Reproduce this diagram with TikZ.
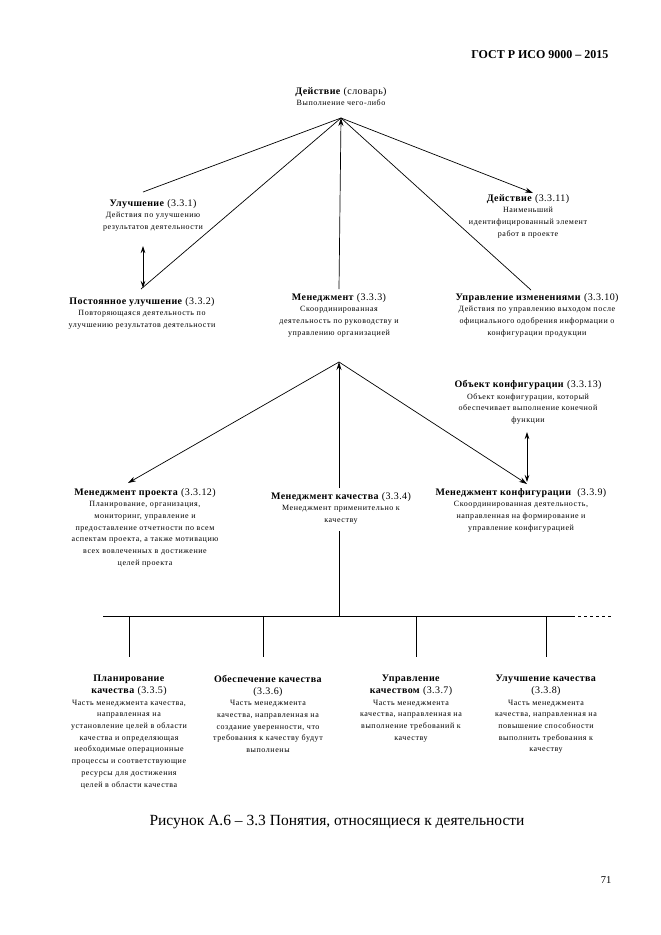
\documentclass[tikz,border=0pt]{standalone}
\usepackage{fontspec}
\setmainfont{Liberation Serif}
\usetikzlibrary{arrows.meta}
\newcommand\descfont{\fontsize{8}{11.7}\selectfont\addfontfeature{LetterSpace=7}}
\newcommand\titfont{\fontsize{10}{11.7}\selectfont\addfontfeature{LetterSpace=4}}
\newcommand\bt[1]{{\titfont\textbf{#1}}}
\newcommand\nt[1]{{\titfont #1}}
\begin{document}
\begin{tikzpicture}[x=1pt,y=-1pt,
  concept/.style={align=center,font=\descfont,inner sep=0pt,anchor=north},
  conn/.style={line width=0.7pt,black},
  arr/.style={conn,-{Stealth[length=8pt,width=5pt]}},
  darr/.style={conn,{Stealth[length=7pt,width=4.5pt]}-{Stealth[length=7pt,width=4.5pt]}},
  dashline/.style={conn,dashed}]
\useasboundingbox (0,0) rectangle (661,935);
% header
\node[font=\fontsize{12}{14}\selectfont\bfseries,anchor=east] (hdr) at (612,55) {ГОСТ Р ИСО 9000 – 2015};
% top level
\node[concept] (top) at (341,87) {\bt{Действие}\nt{\ (словарь)}\\Выполнение чего-либо};
\coordinate (ap1) at (341,118);
\node[concept] (u1) at (153,199) {\bt{Улучшение}\nt{\ (3.3.1)}\\Действия по улучшению\\результатов деятельности};
\node[concept] (a11) at (528,194) {\bt{Действие}\nt{\ (3.3.11)}\\Наименьший\\идентифицированный элемент\\работ в проекте};
\node[concept] (u2) at (142,297) {\bt{Постоянное улучшение}\nt{\ (3.3.2)}\\Повторяющаяся деятельность по\\улучшению результатов деятельности};
\node[concept] (m3) at (339,293) {\bt{Менеджмент}\nt{\ (3.3.3)}\\Скоординированная\\деятельность по руководству и\\управлению организацией};
\node[concept] (c10) at (537,293) {\bt{Управление изменениями}\nt{\ (3.3.10)}\\Действия по управлению выходом после\\официального одобрения информации о\\конфигурации продукции};
\coordinate (e1) at (143,192);
\coordinate (e2) at (141,289);
\coordinate (e3) at (339,289);
\coordinate (e4) at (531,290);
\coordinate (e5) at (533,193);
\draw[conn] (ap1) -- (e1);
\draw[conn] (ap1) -- (e2);
\draw[conn] (ap1) -- (e4);
\draw[arr] (e3) -- (ap1);
\draw[arr] (ap1) -- (e5);
\coordinate (d1a) at (143,246);
\coordinate (d1b) at (143,288);
\draw[darr] (d1a) -- (d1b);
% second level
\coordinate (ap2) at (339,362);
\node[concept] (o13) at (528,380) {\bt{Объект конфигурации}\nt{\ (3.3.13)}\\Объект конфигурации, который\\обеспечивает выполнение конечной\\функции};
\node[concept] (mp12) at (145,488) {\bt{Менеджмент проекта}\nt{\ (3.3.12)}\\Планирование, организация,\\мониторинг, управление и\\предоставление отчетности по всем\\аспектам проекта, а также мотивацию\\всех вовлеченных в достижение\\целей проекта};
\node[concept] (mq4) at (341,492) {\bt{Менеджмент качества}\nt{\ (3.3.4)}\\Менеджмент применительно к\\качеству};
\node[concept] (mk9) at (521,488) {\bt{Менеджмент конфигурации}\nt{\ \ (3.3.9)}\\Скоординированная деятельность,\\направленная на формирование и\\управление конфигурацией};
\coordinate (f1) at (128,483);
\coordinate (f2) at (339,488);
\coordinate (f3) at (527,484);
\draw[arr] (f2) -- (ap2);
\draw[arr] (ap2) -- (f1);
\draw[arr] (ap2) -- (f3);
\coordinate (d2a) at (527,432);
\coordinate (d2b) at (527,482);
\draw[darr] (d2a) -- (d2b);
% quality management tree
\coordinate (q0) at (339,531);
\coordinate (q1) at (339,616);
\coordinate (hL) at (103,616);
\coordinate (hR) at (572,616);
\coordinate (hD) at (612,616);
\draw[conn] (q0) -- (q1);
\draw[conn] (hL) -- (hR);
\draw[dashline] (hR) -- (hD);
\node[concept] (p5) at (129,675) {\bt{Планирование}\\\bt{качества}\nt{\ (3.3.5)}\\Часть менеджмента качества,\\направленная на\\установление целей в области\\качества и определяющая\\необходимые операционные\\процессы и соответствующие\\ресурсы для достижения\\целей в области качества};
\node[concept] (p6) at (268,675) {\bt{Обеспечение качества}\\\nt{(3.3.6)}\\Часть менеджмента\\качества, направленная на\\создание уверенности, что\\требования к качеству будут\\выполнены};
\node[concept] (p7) at (411,675) {\bt{Управление}\\\bt{качеством}\nt{\ (3.3.7)}\\Часть менеджмента\\качества, направленная на\\выполнение требований к\\качеству};
\node[concept] (p8) at (546,675) {\bt{Улучшение качества}\\\nt{(3.3.8)}\\Часть менеджмента\\качества, направленная на\\повышение способности\\выполнить требования к\\качеству};
\foreach \x/\n in {129/p5,263/p6,416/p7,546/p8}{
  \coordinate (t\n) at (\x,616);
  \coordinate (b\n) at (\x,657);
  \draw[conn] (t\n) -- (b\n);
}
% caption and page number
\node[font=\fontsize{15.5}{18}\selectfont] (cap) at (337,822) {Рисунок А.6 – 3.3 Понятия, относящиеся к деятельности};
\node[font=\fontsize{10.5}{12}\selectfont] (pg) at (606,880) {71};
\end{tikzpicture}
\end{document}
